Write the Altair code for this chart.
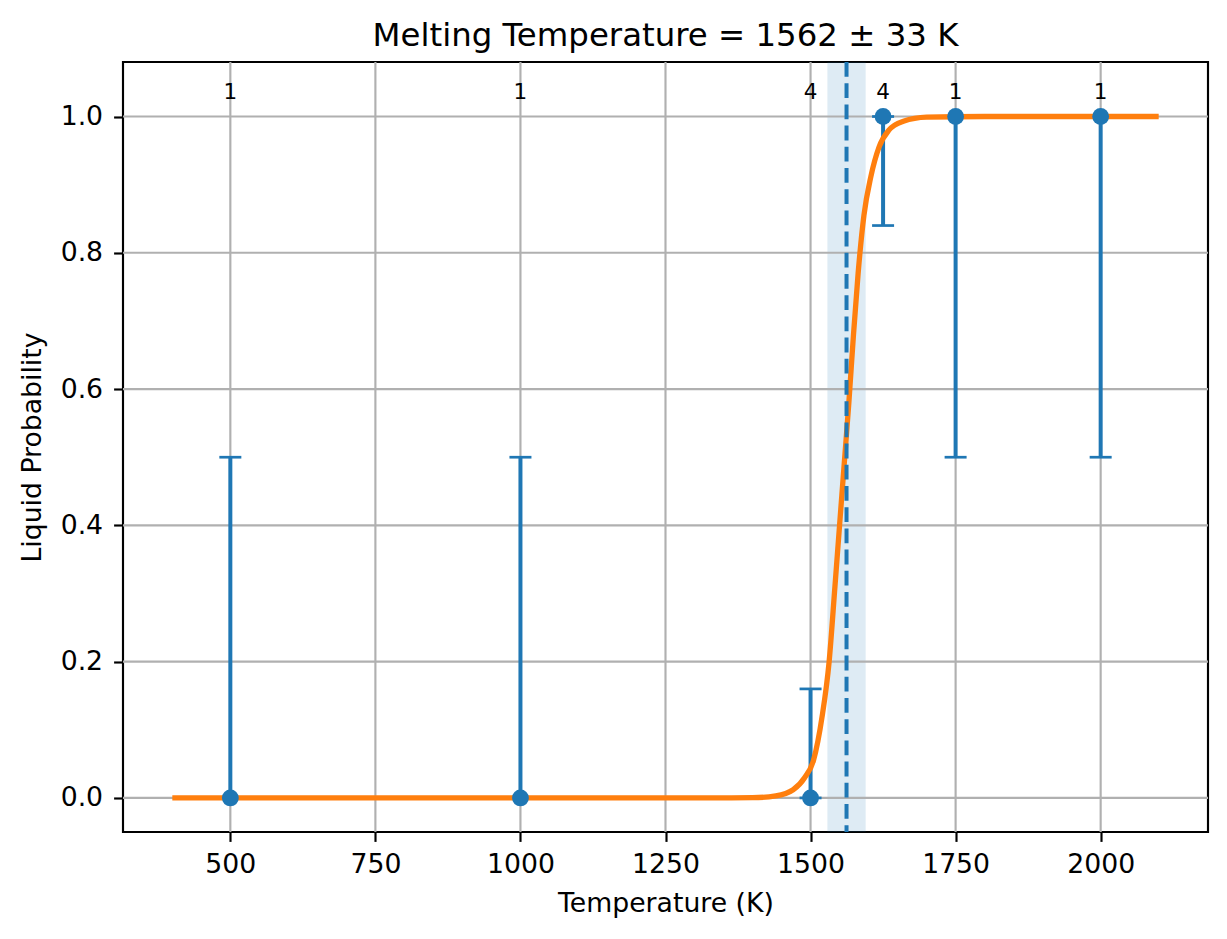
import altair as alt
import pandas as pd

# Measured points
temps = [500, 1000, 1500, 1625, 1750, 2000]
probs = [0, 0, 0, 1, 1, 1]
err_low = [0.0, 0.0, 0.0, 0.84, 0.5, 0.5]
err_high = [0.5, 0.5, 0.16, 1.0, 1.0, 1.0]
counts = ["1", "1", "4", "4", "1", "1"]

# Fitted curve
curve_T = [400, 1300, 1400, 1440, 1470, 1490, 1505, 1520, 1532, 1542, 1550, 1558,
           1566, 1574, 1582, 1592, 1604, 1618, 1635, 1660, 1700, 1800, 2100]
curve_p = [0.0, 0.0, 0.0003, 0.003, 0.012, 0.03, 0.055, 0.12, 0.2, 0.31, 0.4, 0.49,
           0.58, 0.68, 0.77, 0.855, 0.912, 0.955, 0.98, 0.993, 0.999, 1.0, 1.0]

melt_T = 1562
melt_err = 33

x_ticks = [500, 750, 1000, 1250, 1500, 1750, 2000]
y_ticks = [0.0, 0.2, 0.4, 0.6, 0.8, 1.0]
label_y = 1.0255

BLUE = "#1f77b4"
ORANGE = "#ff7f0e"
FONT = "DejaVu Sans"
W, H = 1085, 770

pts = pd.DataFrame({"T": temps, "p": probs, "lo": err_low, "hi": err_high, "n": counts,
                    "ly": [label_y] * len(temps)})
caps = pd.DataFrame({"T": temps + temps, "p": err_low + err_high})
curve = pd.DataFrame({"T": curve_T, "p": curve_p})
band = pd.DataFrame({"T": [melt_T - melt_err], "T2": [melt_T + melt_err]})
melt = pd.DataFrame({"T": [melt_T]})
xg = pd.DataFrame({"T": x_ticks})
yg = pd.DataFrame({"p": y_ticks})

xs = alt.Scale(domain=[315, 2185], nice=False, zero=False)
ys = alt.Scale(domain=[-0.05, 1.08], nice=False, zero=False)

common_axis = dict(grid=False, domain=False, ticks=True, tickSize=9.4, tickWidth=2.15,
                   tickColor="black", labelFont=FONT, labelFontSize=26.7, labelColor="black",
                   titleFont=FONT, titleFontSize=26.7, titleFontWeight="normal",
                   titleColor="black", titleBaseline="alphabetic", labelOverlap=False)
x_axis = alt.Axis(values=x_ticks, format="d", title="Temperature (K)", labelPadding=10,
                  titleY=79, **common_axis)
y_axis = alt.Axis(values=y_ticks, format=".1f", title="Liquid Probability", labelPadding=11,
                  titleX=-82.5, titleAngle=270, **common_axis)


def X(f):
    return alt.X(f, type="quantitative", scale=xs, axis=x_axis)


def Y(f):
    return alt.Y(f, type="quantitative", scale=ys, axis=y_axis)


band_l = alt.Chart(band).mark_rect(color=BLUE, opacity=0.15).encode(
    x=X("T"), x2="T2", y=alt.value(0), y2=alt.value(H))

xgrid = alt.Chart(xg).mark_rule(color="#b0b0b0", strokeWidth=2.15).encode(x=X("T"))
ygrid = alt.Chart(yg).mark_rule(color="#b0b0b0", strokeWidth=2.15).encode(y=Y("p"))

err = alt.Chart(pts).mark_rule(color=BLUE, strokeWidth=4).encode(
    x=X("T"), y=Y("lo"), y2="hi")

cap_l = alt.Chart(caps).mark_tick(color=BLUE, orient="horizontal", size=22, thickness=2.7,
                                  opacity=1).encode(x=X("T"), y=Y("p"))

line = alt.Chart(curve).mark_line(color=ORANGE, strokeWidth=5.3,
                                  interpolate="monotone").encode(x=X("T"), y=Y("p"))

dash = alt.Chart(melt).mark_rule(color=BLUE, strokeWidth=4,
                                 strokeDash=[14.8, 6.4]).encode(x=X("T"))

dots = alt.Chart(pts).mark_circle(color=BLUE, size=283, opacity=1).encode(
    x=X("T"), y=Y("p"))

texts = alt.Chart(pts).mark_text(
    font=FONT, fontSize=21.5, color="black", align="center", baseline="alphabetic").encode(
    x=X("T"), y=Y("ly"), text="n:N")

chart = alt.layer(band_l, xgrid, ygrid, err, cap_l, line, dash, dots, texts).properties(
    width=W, height=H,
    title=alt.TitleParams("Melting Temperature = 1562 ± 33 K", font=FONT, fontSize=32.4,
                          fontWeight="normal", color="black", baseline="alphabetic",
                          offset=-18),
    autosize=alt.AutoSizeParams(type="none"),
    padding={"left": 115, "top": 54, "right": 11, "bottom": 99},
).configure(background="white",
            view=alt.ViewConfig(stroke="black", strokeWidth=2.15))

chart.save("out.html", embed_options={"renderer": "svg", "actions": False})
